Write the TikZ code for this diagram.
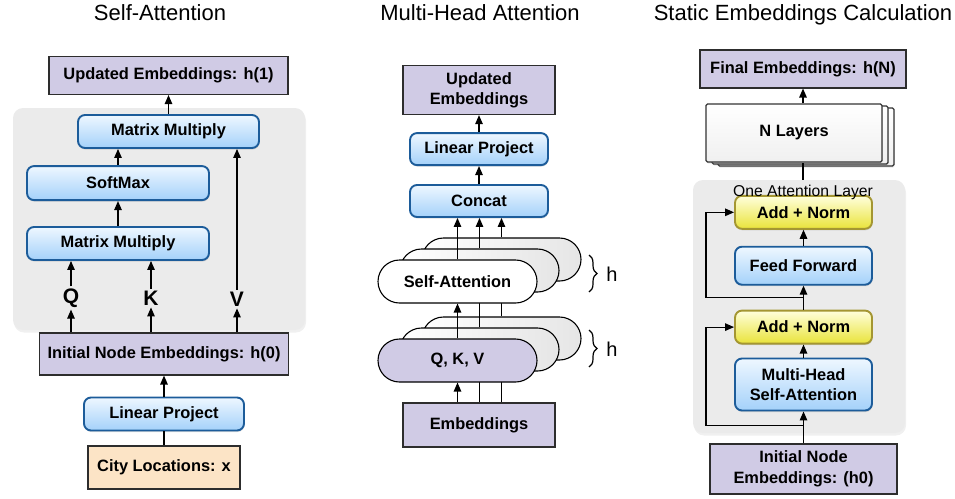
\documentclass[tikz,border=0pt]{standalone}
\usepackage{fontspec}
\setmainfont{Liberation Sans}
\usetikzlibrary{positioning,calc,shapes.misc,shadows,arrows.meta,decorations.pathreplacing}
\definecolor{lav}{RGB}{208,203,229}
\definecolor{purpdraw}{RGB}{45,45,45}
\definecolor{bluetop}{RGB}{238,247,255}
\definecolor{bluebot}{RGB}{164,209,250}
\definecolor{bluedraw}{RGB}{28,92,154}
\definecolor{yeltop}{RGB}{255,255,220}
\definecolor{yelbot}{RGB}{233,227,58}
\definecolor{yeldraw}{RGB}{164,150,50}
\definecolor{cityfill}{RGB}{252,228,198}
\definecolor{panelfill}{RGB}{235,235,235}
\newcommand{\boxfont}{\fontsize{16.4}{20.5}\selectfont\bfseries}
\pgfdeclarelayer{bg}
\pgfdeclarelayer{back}
\pgfdeclarelayer{front}
\pgfsetlayers{bg,back,main,front}
\begin{document}
\begin{tikzpicture}[x=1pt,y=1pt]
  \tikzstyle{title} = [anchor=base, font=\fontsize{22}{24}\selectfont]
  \tikzstyle{purp} = [rectangle, draw=purpdraw, line width=1.1pt, fill=lav, inner sep=0pt, align=center, font=\boxfont]
  \tikzstyle{citybox} = [purp, fill=cityfill]
  \tikzstyle{bluebox} = [rectangle, rounded corners=7pt, draw=bluedraw, line width=1.9pt, top color=bluetop, bottom color=bluebot, inner sep=0pt, align=center, font=\boxfont, drop shadow={opacity=0.25, shadow xshift=0.5pt, shadow yshift=-1.5pt}]
  \tikzstyle{yelbox} = [bluebox, draw=yeldraw, top color=yeltop, bottom color=yelbot]
  \tikzstyle{panel} = [rectangle, rounded corners=10pt, fill=panelfill, inner sep=0pt, drop shadow={opacity=0.12, shadow xshift=1pt, shadow yshift=-2.5pt}]
  \tikzstyle{letter} = [inner sep=2pt, font=\fontsize{21}{24}\selectfont\bfseries]
  \tikzstyle{pill} = [rounded rectangle, draw=black, line width=1.1pt, fill=white, minimum width=159pt, minimum height=43pt, inner sep=0pt, font=\boxfont]
  \tikzstyle{backpill} = [pill, left color=white, right color=gray!20]
  \tikzstyle{page} = [rectangle, rounded corners=1.5pt, draw=black!80, line width=1.2pt, top color=white, bottom color=gray!12, minimum width=176pt, minimum height=58pt, inner sep=0pt, font=\boxfont, drop shadow={opacity=0.2, shadow xshift=0.5pt, shadow yshift=-1.5pt}]
  \tikzstyle{brace} = [decorate, decoration={brace, amplitude=8pt}, line width=1.2pt]
  \tikzstyle{line} = [line width=1.2pt]
  \tikzstyle{arrow} = [line width=1.2pt, -{Triangle[length=9pt,width=7.5pt]}]

  \useasboundingbox (0,0) rectangle (955,-498);

  \node (title1) [title] at (160,-20) {Self-Attention};
  \node (city) [citybox, minimum width=152pt, minimum height=43pt] at (164,-467.5) {City Locations: x};
  \node (lin1) [bluebox, minimum width=160pt, minimum height=33pt, above=14pt of city] {Linear Project};
  \node (init1) [purp, minimum width=249pt, minimum height=42pt, above=21pt of lin1] {Initial Node Embeddings: h(0)};
  \begin{pgfonlayer}{bg}
    \node (panel1) [panel, minimum width=292pt, minimum height=222pt] at (159,-219) {};
  \end{pgfonlayer}
  \node (q) [letter] at (71,-298) {Q};
  \node (k) [letter] at (151,-298) {K};
  \node (v) [letter] at (237,-299) {V};
  \node (mm1) [bluebox, minimum width=182pt, minimum height=33pt] at (118,-243.5) {Matrix Multiply};
  \node (soft) [bluebox, minimum width=182pt, minimum height=34pt, above=25pt of mm1] {SoftMax};
  \node (mm2) [bluebox, minimum width=181pt, minimum height=33pt] at (168.5,-131.5) {Matrix Multiply};
  \node (upd1) [purp, minimum width=239pt, minimum height=38pt, above=19pt of mm2] {Updated Embeddings: h(1)};
  \draw [line] (city) -- (lin1);
  \draw [arrow] (lin1) -- (init1);
  \draw [arrow] (init1.north -| q) -- (q);
  \draw [arrow] (init1.north -| k) -- (k);
  \draw [arrow] (init1.north -| v) -- (v);
  \draw [arrow] (q) -- (q |- mm1.south);
  \draw [arrow] (k) -- (k |- mm1.south);
  \draw [arrow] (mm1) -- (soft);
  \draw [arrow] (soft.north) -- (soft.north |- mm2.south);
  \draw [arrow] (v) -- (v |- mm2.south);
  \draw [arrow] (mm2) -- (upd1);

  \node (title2) [title] at (480,-20) {Multi-Head Attention};
  \node (emb2) [purp, minimum width=152pt, minimum height=44pt] at (479,-425) {Embeddings};
  \node (concat) [bluebox, minimum width=138pt, minimum height=32pt] at (479,-201) {Concat};
  \node (lin2) [bluebox, minimum width=138pt, minimum height=32pt, above=18pt of concat] {Linear Project};
  \node (upd2) [purp, minimum width=152pt, minimum height=49pt, above=17pt of lin2] {Updated\\Embeddings};
  \draw [arrow] (concat) -- (lin2);
  \draw [arrow] (lin2) -- (upd2);
  \node (qkv3) [backpill] at (501.5,-338.5) {};
  \node (qkv2) [backpill] at ([shift={(-22,-11)}]qkv3.center) {};
  \node (qkv1) [pill, fill=lav] at ([shift={(-22,-11)}]qkv2.center) {Q, K, V};
  \begin{pgfonlayer}{front}
    \node (sa3) [backpill] at (501.5,-259.5) {};
    \node (sa2) [backpill] at ([shift={(-22,-11)}]sa3.center) {};
    \node (sa1) [pill] at ([shift={(-22,-11)}]sa2.center) {Self-Attention};
    \draw [arrow] (sa1.north) -- (sa1.north |- concat.south);
    \draw [arrow] (sa2.north) -- (sa2.north |- concat.south);
    \draw [arrow] (sa3.north) -- (sa3.north |- concat.south);
  \end{pgfonlayer}
  \begin{pgfonlayer}{back}
    \draw [arrow] (emb2.north -| qkv2) -- (qkv2.south);
    \draw [arrow] (emb2.north -| qkv3) -- (qkv3.south);
  \end{pgfonlayer}
  \draw [arrow] (emb2.north -| qkv1) -- (qkv1.south);
  \draw [arrow] (qkv1.north) -- (sa1.south);
  \draw [arrow] (qkv2.north) -- (sa2.south);
  \draw [arrow] (qkv3.north) -- (sa3.south);
  \draw [brace] (589,-255) -- (589,-292);
  \node (h1) [font=\fontsize{20}{22}\selectfont] at (612,-274) {h};
  \draw [brace] (589,-330) -- (589,-367);
  \node (h2) [font=\fontsize{20}{22}\selectfont] at (612,-349) {h};

  \node (title3) [title] at (803,-20) {Static Embeddings Calculation};
  \node (init3) [purp, minimum width=187pt, minimum height=50pt] at (803.5,-469) {Initial Node\\Embeddings: (h0)};
  \node (mhsa) [bluebox, minimum width=137pt, minimum height=52pt, above=32pt of init3] {Multi-Head\\Self-Attention};
  \node (an1) [yelbox, minimum width=137pt, minimum height=33pt, above=13pt of mhsa] {Add + Norm};
  \node (ff) [bluebox, minimum width=137pt, minimum height=38pt, above=24pt of an1] {Feed Forward};
  \node (an2) [yelbox, minimum width=137pt, minimum height=33pt, above=16pt of ff] {Add + Norm};
  \begin{pgfonlayer}{bg}
    \node (panel3) [panel, minimum width=212pt, minimum height=253pt] at (799,-306.5) {};
  \end{pgfonlayer}
  \node (layer) [anchor=base, font=\fontsize{15.7}{18}\selectfont] at (803,-196.5) {One Attention Layer};
  \node (nl3) [page] at (806,-137) {};
  \node (nl2) [page] at (800,-135) {};
  \node (nl1) [page] at (794,-133) {N Layers};
  \node (fin) [purp, minimum width=206pt, minimum height=38pt] at (803,-69) {Final Embeddings: h(N)};
  \draw [arrow] (fin.south |- nl1.north) -- (fin.south);
  \draw [line] (panel3.north -| fin) -- (nl1.south -| fin);
  \draw [arrow] (init3) -- (mhsa);
  \draw [arrow] (mhsa) -- (an1);
  \draw [arrow] (an1) -- (ff);
  \draw [arrow] (ff) -- (an2);
  \coordinate (lx) at ([xshift=-28pt]mhsa.west);
  \coordinate (r1) at ($(mhsa.south)!0.45!(init3.north)$);
  \draw [arrow] (r1) -- (r1 -| lx) |- (an1.west);
  \coordinate (r2) at ($(an1.north)!0.5!(ff.south)$);
  \draw [arrow] (r2) -- (r2 -| lx) |- (an2.west);
\end{tikzpicture}
\end{document}
